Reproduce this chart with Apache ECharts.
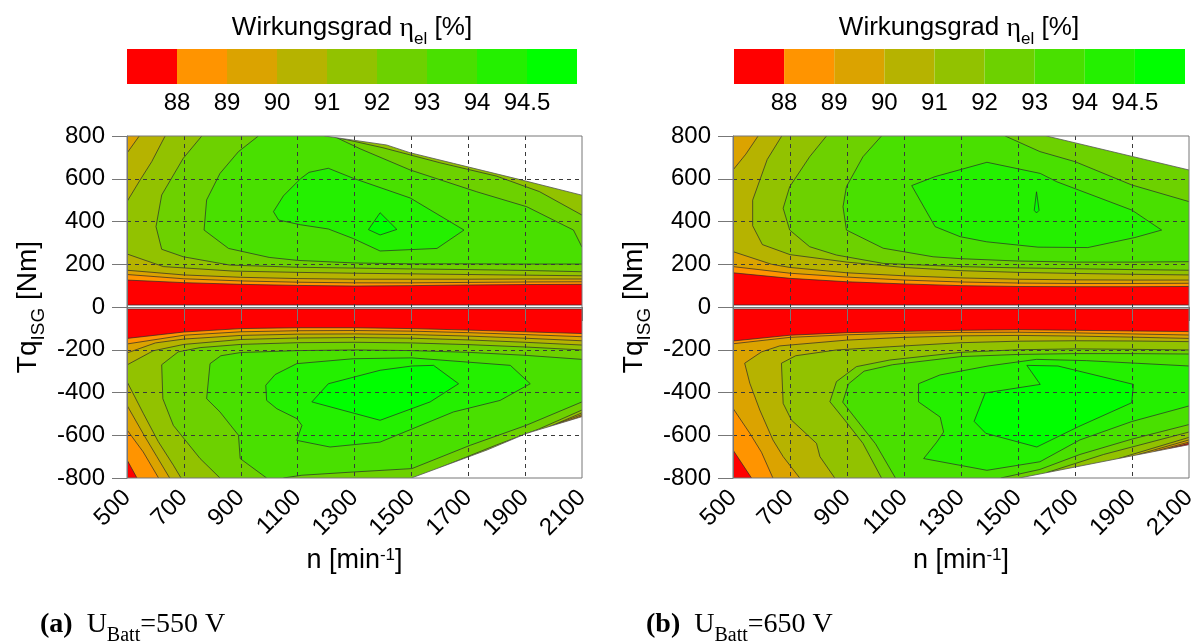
<!DOCTYPE html>
<html>
<head>
<meta charset="utf-8">
<script src="https://cdn.jsdelivr.net/npm/echarts/dist/echarts.min.js"></script>
<style>
  html, body { margin: 0; padding: 0; background: #fff; }
  #chart { width: 1203px; height: 642px; }
</style>
</head>
<body>
<div id="chart"></div>
<script>
// efficiency levels of the colour scale
var levelLabels = ['88', '89', '90', '91', '92', '93', '94', '94.5'];
var levelColors = ['#FF0000', '#FF9400', '#DBA300', '#B6B300', '#92C200', '#6DD100', '#49E000', '#24F000', '#00FF00'];

// torque where the two halves of the map start (gap around 0 Nm)
var gapPos = 9;
var gapNeg = -9;

// ---- (a) U_Batt = 550 V, contour lines: [n, Tq] ----
var aPos88 = [[500, 126], [700, 114], [900, 106], [1100, 101], [1300, 98], [1500, 100], [1700, 103], [1900, 105], [2100, 106]];
var aPos89 = [[500, 152], [700, 132], [900, 122], [1100, 116], [1300, 113], [1500, 113], [1700, 115], [1900, 117], [2100, 118]];
var aPos90Corner = [[543, 800], [500, 720]];
var aPos90 = [[500, 172], [700, 150], [900, 139], [1100, 133], [1300, 130], [1500, 130], [1700, 130], [1900, 131], [2100, 131]];
var aPos91Up = [[634, 800], [587, 680], [546, 594], [500, 493]];
var aPos91 = [[500, 248], [628, 189], [873, 168], [1100, 162], [1300, 158], [1500, 155], [1700, 152], [1900, 149], [2100, 146]];
var aPos92 = [[763, 800], [698, 696], [622, 524], [602, 376], [622, 270], [698, 235], [862, 196], [1097, 186], [1300, 182], [1496, 178], [1700, 175], [1903, 171], [2100, 165]];
var aPos92Up = [[1214, 800], [1400, 745], [1600, 675], [1800, 612], [1950, 540], [2100, 430]];
var aPos93 = [[962, 800], [892, 727], [827, 625], [780, 501], [771, 360], [857, 274], [1000, 232], [1100, 218], [1300, 206], [1500, 202], [1700, 202], [1900, 201], [2100, 201]];
var aPos93Up = [[1225, 800], [1320, 740], [1496, 641], [1730, 539], [1906, 469], [2070, 360], [2100, 280]];
var aPos94 = [[1015, 446], [1050, 520], [1110, 600], [1140, 630], [1208, 649], [1296, 602], [1496, 510], [1685, 360], [1590, 274], [1390, 262], [1296, 320], [1208, 365], [1109, 385], [1033, 407]];
var aPos945 = [[1390, 441], [1449, 363], [1390, 337], [1349, 362]];
var aPosLimit = [[1195, 800], [1413, 758], [1495, 722], [1648, 672], [1882, 596], [2100, 523]];

var aNeg88 = [[500, -147], [700, -117], [900, -101], [1100, -97], [1300, -97], [1500, -101], [1700, -108], [1900, -116], [2100, -124]];
var aNeg88Low = [[500, -715], [535, -800]];
var aNeg89 = [[500, -173], [700, -132], [900, -116], [1100, -111], [1300, -110], [1500, -113], [1700, -120], [1900, -129], [2100, -139]];
var aNeg89Low = [[500, -575], [557, -678], [611, -800]];
var aNeg89Edge = [[1960, -580], [2100, -509]];
var aNeg90 = [[500, -215], [600, -168], [700, -150], [900, -133], [1100, -127], [1300, -126], [1500, -129], [1700, -136], [1900, -146], [2100, -158]];
var aNeg90Low = [[500, -460], [560, -600], [605, -700], [650, -800]];
var aNeg90Edge = [[1860, -627], [2000, -553], [2100, -503]];
var aNeg91 = [[500, -271], [592, -205], [700, -175], [900, -152], [1100, -145], [1300, -143], [1500, -146], [1700, -154], [1900, -165], [2100, -178]];
var aNeg91Low = [[500, -349], [557, -497], [610, -630], [663, -740], [690, -800]];
var aNeg91Edge = [[1760, -676], [1950, -580], [2100, -495]];
var aNeg92 = [[827, -800], [757, -709], [663, -554], [626, -429], [622, -270], [680, -210], [757, -190], [900, -175], [1100, -167], [1300, -165], [1500, -168], [1700, -176], [1900, -187], [2100, -201]];
var aNeg92Edge = [[1600, -752], [1800, -645], [1950, -570], [2100, -482]];
var aNeg93 = [[991, -800], [898, -709], [892, -600], [827, -491], [780, -429], [792, -265], [830, -228], [900, -213], [1100, -204], [1300, -201], [1500, -204], [1700, -212], [1900, -226], [2100, -245]];
var aNeg93Low = [[1050, -800], [1115, -787], [1296, -772], [1502, -756], [1707, -647], [1903, -554], [2100, -444]];
var aNeg94 = [[1021, -316], [1097, -265], [1296, -242], [1502, -238], [1848, -273], [1918, -359], [1812, -437], [1648, -491], [1390, -632], [1214, -655], [1097, -624], [1115, -554], [1097, -522], [1027, -476], [991, -437], [988, -366]];
var aNeg945 = [[1150, -444], [1208, -359], [1390, -296], [1502, -276], [1578, -273], [1666, -359], [1566, -444], [1390, -530]];
var aNegLimit = [[1500, -800], [1766, -669], [1906, -591], [2100, -513]];

// ---- (b) U_Batt = 650 V ----
var bPos88 = [[500, 160], [700, 134], [900, 118], [1100, 108], [1300, 100], [1500, 96], [1700, 95], [1900, 95], [2100, 96]];
var bPos89 = [[500, 189], [700, 158], [900, 140], [1100, 126], [1300, 117], [1500, 112], [1700, 110], [1900, 110], [2100, 111]];
var bPos90Corner = [[588, 800], [545, 715], [500, 641]];
var bPos90 = [[500, 259], [635, 200], [700, 185], [900, 160], [1100, 146], [1300, 136], [1500, 130], [1700, 127], [1900, 126], [2100, 126]];
var bPos91 = [[671, 800], [620, 690], [569, 500], [569, 380], [603, 292], [700, 245], [900, 210], [1100, 185], [1300, 170], [1500, 162], [1700, 157], [1900, 153], [2100, 150]];
var bPos92 = [[828, 800], [769, 703], [699, 563], [676, 462], [699, 360], [769, 282], [863, 243], [1027, 204], [1296, 189], [1500, 183], [1700, 179], [1900, 175], [2100, 172]];
var bPos93 = [[1021, 800], [956, 703], [898, 563], [886, 469], [898, 360], [1027, 275], [1202, 235], [1300, 226], [1500, 215], [1700, 210], [1900, 210], [2100, 212]];
var bPos93Up = [[1455, 800], [1577, 727], [1700, 680], [1899, 571], [2100, 493]];
var bPos94 = [[1127, 568], [1209, 610], [1391, 677], [1578, 625], [1636, 586], [1900, 453], [2004, 360], [1910, 325], [1745, 278], [1570, 280], [1390, 305], [1297, 329], [1209, 376]];
var bPos945 = [[1565, 539], [1574, 452], [1565, 440], [1557, 452]];
var bPosLimit = [[1600, 800], [2100, 641]];

var bNeg88 = [[500, -159], [700, -132], [900, -120], [1100, -114], [1300, -109], [1500, -106], [1700, -109], [1900, -112], [2100, -115]];
var bNeg88Low = [[500, -669], [565, -800]];
var bNeg88Edge = [[2030, -662], [2100, -638]];
var bNeg89 = [[500, -172], [700, -142], [900, -130], [1100, -123], [1300, -119], [1500, -118], [1700, -121], [1900, -126], [2100, -131]];
var bNeg89Low = [[500, -474], [559, -591], [600, -680], [640, -800]];
var bNeg89Edge = [[1980, -675], [2100, -632]];
var bNeg90 = [[734, -800], [676, -700], [640, -622], [594, -482], [559, -357], [541, -263], [600, -210], [664, -182], [898, -155], [1100, -142], [1300, -135], [1500, -133], [1700, -136], [1900, -141], [2100, -147]];
var bNeg90Edge = [[1920, -691], [2100, -622]];
var bNeg91 = [[857, -800], [805, -700], [793, -638], [705, -529], [676, -451], [670, -263], [720, -228], [863, -201], [1050, -186], [1300, -167], [1500, -160], [1700, -158], [1900, -159], [2100, -162]];
var bNeg91Edge = [[1850, -710], [2100, -610]];
var bNeg92 = [[1021, -800], [956, -638], [892, -529], [840, -443], [863, -349], [933, -279], [1050, -248], [1300, -212], [1500, -200], [1700, -196], [1900, -198], [2100, -201]];
var bNeg92Edge = [[1600, -775], [1800, -690], [2100, -585]];
var bNeg93 = [[1070, -800], [1000, -640], [935, -530], [885, -445], [905, -360], [960, -300], [1060, -270], [1300, -232], [1500, -222], [1700, -218], [1900, -218], [2100, -220]];
var bNeg93Low = [[1440, -800], [1577, -760], [1717, -690], [1900, -618], [2100, -550]];
var bNeg94 = [[2100, -276], [1741, -251], [1565, -245], [1395, -276], [1226, -318], [1151, -359], [1151, -444], [1227, -515], [1239, -585], [1215, -632], [1169, -709], [1391, -764], [1577, -724], [1717, -622], [1899, -536], [2100, -463]];
var bNeg945 = [[1531, -273], [1640, -276], [1905, -362], [1899, -448], [1712, -560], [1566, -655], [1387, -591], [1346, -535], [1385, -402], [1578, -362]];
var bNegLimit = [[1505, -800], [2100, -644]];

// ---- helpers that close a contour outside the visible plot (clipped away) ----
var N0 = 400, N1 = 2200, T1 = 900, B1 = -900;
function L(t) { return [N0, t]; }
function R(t) { return [N1, t]; }
function T(n) { return [n, T1]; }
function B(n) { return [n, B1]; }
function last(a) { return a[a.length - 1]; }
function rev(a) { return a.slice().reverse(); }

function above(line) {
  return [L(line[0][1])].concat(line, [R(last(line)[1]), [N1, T1], [N0, T1]]);
}
function cornerBand(corner, band) {
  return [T(corner[0][0])].concat(corner, [L(last(corner)[1]), L(band[0][1])], band, [R(last(band)[1]), [N1, T1]]);
}
function topU(u, upper) {
  var pts = [T(u[0][0])].concat(u, [R(last(u)[1])]);
  if (upper) return pts.concat([R(last(upper)[1])], rev(upper), [T(upper[0][0])]);
  return pts.concat([[N1, T1]]);
}
function bandLow(band, low, edge) {
  var pts = [L(band[0][1])].concat(band, [R(last(band)[1])]);
  if (edge) pts = pts.concat([R(last(edge)[1])], rev(edge), [B(edge[0][0])]);
  else pts = pts.concat([[N1, B1]]);
  return pts.concat([B(last(low)[0])], rev(low), [L(low[0][1])]);
}
function botU(u, edge) {
  return [B(u[0][0])].concat(u, [R(last(u)[1]), R(last(edge)[1])], rev(edge), [B(edge[0][0])]);
}
function sideU(u) {
  return [R(u[0][1])].concat(u, [R(last(u)[1])]);
}
function topMask(limit) {
  return [T(limit[0][0])].concat(limit, [R(last(limit)[1]), [N1, T1]]);
}
function botMask(limit) {
  return [B(limit[0][0])].concat(limit, [R(last(limit)[1]), [N1, B1]]);
}

function fills(list) {
  return list.map(function (p) { return { pts: p[1], fill: levelColors[p[0]], stroke: '#2a2a2a', width: 0.7 }; });
}

var regionsA = fills([
  [0, [L(gapPos), R(gapPos), [N1, T1], [N0, T1]]],
  [1, above(aPos88)],
  [2, above(aPos89)],
  [3, cornerBand(aPos90Corner, aPos90)],
  [4, cornerBand(aPos91Up, aPos91)],
  [5, topU(aPos92, aPos92Up)],
  [6, topU(aPos93, aPos93Up)],
  [7, aPos94],
  [8, aPos945],
  [0, [L(gapNeg), R(gapNeg), [N1, B1], [N0, B1]]],
  [1, bandLow(aNeg88, aNeg88Low, null)],
  [2, bandLow(aNeg89, aNeg89Low, aNeg89Edge)],
  [3, bandLow(aNeg90, aNeg90Low, aNeg90Edge)],
  [4, bandLow(aNeg91, aNeg91Low, aNeg91Edge)],
  [5, botU(aNeg92, aNeg92Edge)],
  [6, botU(aNeg93, aNeg93Low)],
  [7, aNeg94],
  [8, aNeg945]
]);
var regionsB = fills([
  [0, [L(gapPos), R(gapPos), [N1, T1], [N0, T1]]],
  [1, above(bPos88)],
  [2, above(bPos89)],
  [3, cornerBand(bPos90Corner, bPos90)],
  [4, topU(bPos91, null)],
  [5, topU(bPos92, null)],
  [6, topU(bPos93, bPos93Up)],
  [7, bPos94],
  [8, bPos945],
  [0, [L(gapNeg), R(gapNeg), [N1, B1], [N0, B1]]],
  [1, bandLow(bNeg88, bNeg88Low, bNeg88Edge)],
  [2, bandLow(bNeg89, bNeg89Low, bNeg89Edge)],
  [3, botU(bNeg90, bNeg90Edge)],
  [4, botU(bNeg91, bNeg91Edge)],
  [5, botU(bNeg92, bNeg92Edge)],
  [6, botU(bNeg93, bNeg93Low)],
  [7, sideU(bNeg94)],
  [8, bNeg945]
]);
var masksA = [topMask(aPosLimit), botMask(aNegLimit)].map(function (p) { return { pts: p, fill: '#fff', stroke: '#555', width: 0.8 }; });
var masksB = [topMask(bPosLimit), botMask(bNegLimit)].map(function (p) { return { pts: p, fill: '#fff', stroke: '#555', width: 0.8 }; });

function regionRenderer(list) {
  return function (params, api) {
    var r = list[api.value(0)];
    var pts = r.pts.map(function (p) { return api.coord(p); });
    return { type: 'polygon', shape: { points: pts }, style: { fill: r.fill, stroke: r.stroke, lineWidth: r.width } };
  };
}
function colorbarRenderer(params, api) {
  var i = api.value(0);
  var p0 = api.coord([i, 1]);
  var p1 = api.coord([i + 1, 0]);
  return { type: 'rect', shape: { x: p0[0], y: p0[1], width: p1[0] - p0[0], height: p1[1] - p0[1] }, style: { fill: levelColors[i] } };
}
function idx(list) { return list.map(function (r, i) { return [i]; }); }

var FONT = 'Liberation Sans, Arial, sans-serif';
var SERIF = 'Liberation Serif, DejaVu Serif, serif';

function plotX(gridIndex) {
  return {
    type: 'value', gridIndex: gridIndex, min: 500, max: 2100, interval: 200, z: 5,
    axisLine: { show: true, lineStyle: { color: '#777', width: 1 } },
    axisTick: { show: true, length: 14, lineStyle: { color: '#777' } },
    axisLabel: { rotate: 45, interval: 0, fontSize: 24, color: '#000', fontFamily: FONT, margin: 16,
      formatter: function (v) { return String(v); } },
    splitLine: { show: true, showMinLine: false, showMaxLine: false, lineStyle: { color: '#3a3a3a', type: [4, 4], width: 1 } },
    name: '{a|n [min}{s|-1}{a|]}', nameLocation: 'middle', nameGap: 61,
    nameTextStyle: { rich: {
      a: { fontSize: 27, fontFamily: FONT, color: '#000', lineHeight: 30, verticalAlign: 'top' },
      s: { fontSize: 17, fontFamily: FONT, color: '#000', lineHeight: 10, verticalAlign: 'top' }
    } }
  };
}
function plotY(gridIndex) {
  return {
    type: 'value', gridIndex: gridIndex, min: -800, max: 800, interval: 200, z: 5,
    axisLine: { show: true, lineStyle: { color: '#777', width: 1 } },
    axisTick: { show: true, length: 15, lineStyle: { color: '#777' } },
    axisLabel: { fontSize: 24, color: '#000', fontFamily: FONT, margin: 22 },
    splitLine: { show: true, showMinLine: false, showMaxLine: false, lineStyle: { color: '#3a3a3a', type: [4, 4], width: 1 } },
    name: '{a|Tq}{s|ISG}{a| [Nm]}', nameLocation: 'middle', nameGap: 79,
    nameTextStyle: { rich: {
      a: { fontSize: 28, fontFamily: FONT, color: '#000', lineHeight: 30, verticalAlign: 'top' },
      s: { fontSize: 19, fontFamily: FONT, color: '#000', lineHeight: 34, verticalAlign: 'bottom' }
    } }
  };
}
function barX(gridIndex) {
  return {
    type: 'value', gridIndex: gridIndex, min: 0, max: 9, interval: 1,
    axisLine: { show: false }, axisTick: { show: false }, splitLine: { show: false },
    axisLabel: { interval: 0, fontSize: 24, color: '#000', fontFamily: FONT, margin: 7,
      formatter: function (v) { return levelLabels[v - 1] || ''; } }
  };
}
function barY(gridIndex) {
  return { type: 'value', gridIndex: gridIndex, min: 0, max: 1, show: false };
}

var titleRich = {
  a: { fontSize: 26, fontFamily: FONT, color: '#000', lineHeight: 28, verticalAlign: 'top' },
  e: { fontSize: 28, fontFamily: SERIF, color: '#000', lineHeight: 28, verticalAlign: 'top' },
  s: { fontSize: 17, fontFamily: FONT, color: '#000', lineHeight: 33, verticalAlign: 'bottom' }
};
var capRich = {
  b: { fontSize: 28, fontFamily: SERIF, fontWeight: 'bold', color: '#000', lineHeight: 30, verticalAlign: 'top' },
  a: { fontSize: 28, fontFamily: SERIF, color: '#000', lineHeight: 30, verticalAlign: 'top' },
  s: { fontSize: 20, fontFamily: SERIF, color: '#000', lineHeight: 35, verticalAlign: 'bottom' }
};

var chart = echarts.init(document.getElementById('chart'));
chart.setOption({
  animation: false,
  backgroundColor: '#fff',
  grid: [
    { left: 127, top: 136, width: 455, height: 342, show: true, borderColor: '#777', borderWidth: 1, backgroundColor: 'transparent', z: 6 },
    { left: 733, top: 136, width: 456, height: 342, show: true, borderColor: '#777', borderWidth: 1, backgroundColor: 'transparent', z: 6 },
    { left: 127, top: 49, width: 450, height: 35 },
    { left: 734, top: 49, width: 451, height: 35 }
  ],
  xAxis: [plotX(0), plotX(1), barX(2), barX(3)],
  yAxis: [plotY(0), plotY(1), barY(2), barY(3)],
  graphic: [
    { type: 'text', x: 352, y: 15, style: { text: '{a|Wirkungsgrad }{e|η}{s|el}{a| [%]}', align: 'center', rich: titleRich } },
    { type: 'text', x: 959, y: 15, style: { text: '{a|Wirkungsgrad }{e|η}{s|el}{a| [%]}', align: 'center', rich: titleRich } },
    { type: 'text', x: 40, y: 611, style: { text: '{b|(a)}{a|  U}{s|Batt}{a|=550 V}', rich: capRich } },
    { type: 'text', x: 646, y: 611, style: { text: '{b|(b)}{a|  U}{s|Batt}{a|=650 V}', rich: capRich } }
  ],
  series: [
    { type: 'custom', xAxisIndex: 0, yAxisIndex: 0, clip: true, silent: true, z: 2, renderItem: regionRenderer(regionsA), data: idx(regionsA) },
    { type: 'custom', xAxisIndex: 0, yAxisIndex: 0, clip: true, silent: true, z: 3, renderItem: regionRenderer(masksA), data: idx(masksA) },
    { type: 'custom', xAxisIndex: 1, yAxisIndex: 1, clip: true, silent: true, z: 2, renderItem: regionRenderer(regionsB), data: idx(regionsB) },
    { type: 'custom', xAxisIndex: 1, yAxisIndex: 1, clip: true, silent: true, z: 3, renderItem: regionRenderer(masksB), data: idx(masksB) },
    { type: 'custom', xAxisIndex: 2, yAxisIndex: 2, silent: true, renderItem: colorbarRenderer, data: idx(levelColors) },
    { type: 'custom', xAxisIndex: 3, yAxisIndex: 3, silent: true, renderItem: colorbarRenderer, data: idx(levelColors) }
  ]
});
</script>
</body>
</html>
